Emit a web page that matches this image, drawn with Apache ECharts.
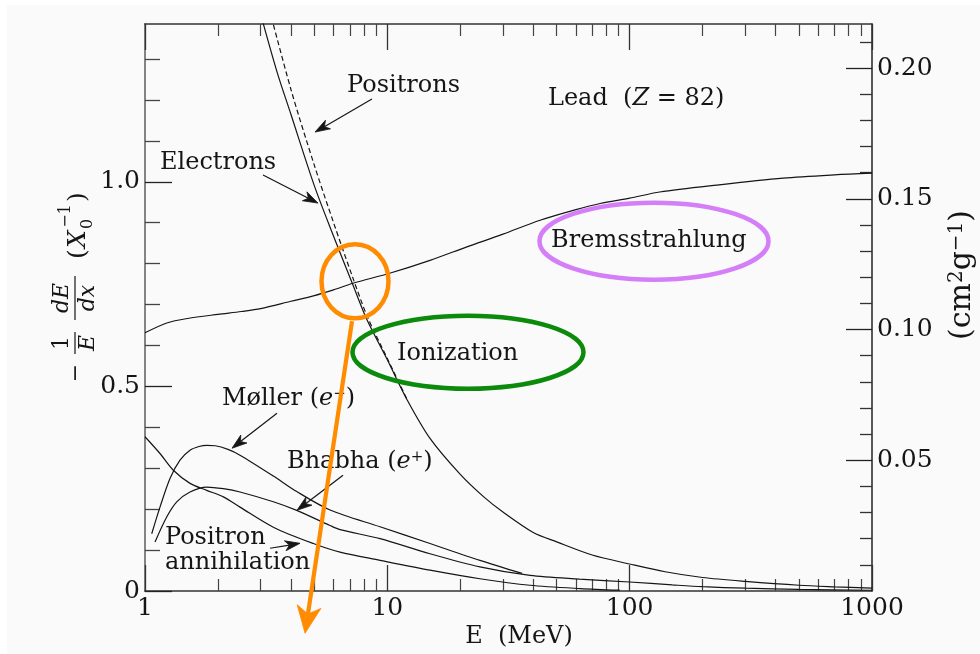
<!DOCTYPE html>
<html>
<head>
<meta charset="utf-8">
<title>Lead (Z = 82)</title>
<script src="https://cdn.jsdelivr.net/npm/echarts@6.0.0/dist/echarts.min.js"></script>
<style>
html,body{margin:0;padding:0;background:#ffffff;}
#chart{width:980px;height:654px;}
</style>
</head>
<body>
<div id="chart"></div>
<script>
// ---------- tick positions / labels ----------
const xMinorTicks = [2,3,4,5,6,7,8,9,20,30,40,50,60,70,80,90,200,300,400,500,600,700,800,900];
const leftMajorTicks = [0, 0.5, 1.0];
const leftMinorTicks = [0.1,0.2,0.3,0.4,0.6,0.7,0.8,0.9,1.1,1.2,1.3];
const rightMajorTicks = [0.05, 0.10, 0.15, 0.20];
const rightMinorTicks = [0.01,0.02,0.03,0.04,0.06,0.07,0.08,0.09,0.11,0.12,0.13,0.14,0.16,0.17,0.18,0.19,0.21];

// ---------- data: E (MeV) and -1/E dE/dx (X0^-1) ----------
const electronsE = [3.0, 3.5, 4.0, 5.0, 6.0, 7.22, 8.25, 10, 12, 15, 20, 25, 30, 40, 50, 70, 100, 140, 200, 300, 500, 700, 1000];
const electronsV = [1.41, 1.27, 1.165, 0.99, 0.867, 0.747, 0.662, 0.565, 0.47, 0.373, 0.285, 0.23, 0.193, 0.143, 0.120, 0.088, 0.066, 0.047, 0.033, 0.0235, 0.014, 0.0102, 0.0070];

const positronsE = [3.2, 4.0, 5.0, 6.0, 7.22, 8.25, 10, 12];
const positronsV = [1.44, 1.226, 1.04, 0.90, 0.764, 0.672, 0.568, 0.471];

const bremE = [1, 1.23, 1.5, 2, 2.5, 3, 4, 5, 6, 7.22, 10.3, 15, 21.3, 30, 42.7, 60, 75.5, 100, 133, 229, 430, 700, 1000];
const bremV = [0.631, 0.655, 0.666, 0.676, 0.683, 0.690, 0.708, 0.722, 0.736, 0.752, 0.777, 0.808, 0.841, 0.872, 0.906, 0.932, 0.947, 0.960, 0.975, 0.992, 1.009, 1.017, 1.021];

const mollerE = [1.066, 1.153, 1.268, 1.394, 1.534, 1.67, 1.798, 1.95, 2.2, 2.466, 3.385, 4.228, 5.8, 9.33, 15, 24.1, 36];
const mollerV = [0.140, 0.205, 0.275, 0.320, 0.344, 0.353, 0.356, 0.355, 0.346, 0.332, 0.281, 0.243, 0.198, 0.157, 0.116, 0.075, 0.043];

const bhabhaE = [1.10, 1.229, 1.352, 1.534, 1.798, 2.105, 2.466, 3.385, 4.228, 5.8, 6.38, 9.33, 15, 24.1, 38.8, 62, 100, 150, 200, 300, 500, 1000];
const bhabhaV = [0.120, 0.181, 0.218, 0.242, 0.254, 0.250, 0.242, 0.218, 0.197, 0.160, 0.150, 0.128, 0.091, 0.059, 0.038, 0.029, 0.022, 0.015, 0.0105, 0.0068, 0.0040, 0.0018];

const annihE = [1.0, 1.153, 1.309, 1.534, 1.798, 2.105, 2.466, 3.385, 4.95, 6.38, 9.33, 15, 24.1, 38.8, 62.4, 91];
const annihV = [0.377, 0.336, 0.295, 0.263, 0.246, 0.230, 0.205, 0.156, 0.116, 0.095, 0.075, 0.051, 0.030, 0.014, 0.006, 0.002];

// ---------- axis ranges ----------
const xMin = 1, xMax = 1000;
const leftMax = 1.3856;
const rightMax = 0.2169;

const FONT = '"DejaVu Serif", "Liberation Serif", serif';
const INK = '#151515';

function pairs(es, vs) { return es.map((e, i) => [e, vs[i]]); }

const lineBase = {
  type: 'line', xAxisIndex: 0, yAxisIndex: 0, showSymbol: false, symbol: 'none',
  smooth: 0.3, clip: true, silent: true, animation: false, z: 3
};

const gridRect = {left: 145, right: 108, top: 24, bottom: 63, containLabel: false};

function hAxis(opts) {
  return Object.assign({
    axisLine: {show: false, onZero: false},
    axisLabel: {show: false}, splitLine: {show: false}, minorTick: {show: false}
  }, opts);
}

const option = {
  backgroundColor: '#fafafa',
  animation: false,
  grid: [Object.assign({}, gridRect), Object.assign({}, gridRect)],
  xAxis: [
    hAxis({type: 'log', logBase: 10, gridIndex: 0, min: xMin, max: xMax, position: 'bottom',
     axisLine: {show: true, onZero: false, lineStyle: {color: '#333', width: 1.5}},
     axisTick: {show: true, inside: true, length: 26, lineStyle: {color: '#333', width: 1.3}},
     axisLabel: {show: true, margin: 5, fontFamily: FONT, fontSize: 25, color: INK,
       formatter: v => String(Math.round(v))}}),
    hAxis({type: 'log', logBase: 10, gridIndex: 0, min: xMin, max: xMax, position: 'top',
     axisLine: {show: true, onZero: false, lineStyle: {color: '#333', width: 1.5}},
     axisTick: {show: true, inside: true, length: 26, lineStyle: {color: '#333', width: 1.3}}}),
    hAxis({type: 'value', gridIndex: 1, min: 0, max: 3, position: 'bottom',
     axisTick: {show: true, inside: true, length: 12, customValues: xMinorTicks.map(Math.log10), lineStyle: {color: '#444', width: 1.2}}}),
    hAxis({type: 'value', gridIndex: 1, min: 0, max: 3, position: 'top',
     axisTick: {show: true, inside: true, length: 12, customValues: xMinorTicks.map(Math.log10), lineStyle: {color: '#444', width: 1.2}}})
  ],
  yAxis: [
    hAxis({type: 'value', gridIndex: 0, min: 0, max: leftMax, position: 'left',
     axisLine: {show: true, onZero: false, lineStyle: {color: '#777', width: 1.8}},
     axisTick: {show: true, inside: true, length: 27, customValues: leftMajorTicks, lineStyle: {color: '#222', width: 1.3}},
     axisLabel: {show: true, customValues: leftMajorTicks, margin: 5, fontFamily: FONT, fontSize: 25, color: INK,
       formatter: v => (v === 0 ? '0' : v.toFixed(1))}}),
    hAxis({type: 'value', gridIndex: 0, min: 0, max: rightMax, position: 'right',
     axisLine: {show: true, onZero: false, lineStyle: {color: '#222', width: 1.5}},
     axisTick: {show: true, inside: true, length: 26, customValues: rightMajorTicks, lineStyle: {color: '#222', width: 1.3}},
     axisLabel: {show: true, customValues: rightMajorTicks, margin: 5, fontFamily: FONT, fontSize: 25, color: INK,
       formatter: v => v.toFixed(2)}}),
    hAxis({type: 'value', gridIndex: 1, min: 0, max: leftMax, position: 'left',
     axisTick: {show: true, inside: true, length: 15, customValues: leftMinorTicks, lineStyle: {color: '#444', width: 1.3}}}),
    hAxis({type: 'value', gridIndex: 1, min: 0, max: rightMax, position: 'right',
     axisTick: {show: true, inside: true, length: 12, customValues: rightMinorTicks, lineStyle: {color: '#333', width: 1.3}}})
  ],
  series: [
    Object.assign({}, lineBase, {name: 'Electrons (ionization)', data: pairs(electronsE, electronsV), lineStyle: {color: INK, width: 1.2}}),
    Object.assign({}, lineBase, {name: 'Positrons (ionization)', data: pairs(positronsE, positronsV), lineStyle: {color: INK, width: 1.2, type: [5, 3]}}),
    Object.assign({}, lineBase, {name: 'Bremsstrahlung', data: pairs(bremE, bremV), lineStyle: {color: INK, width: 1.2}}),
    Object.assign({}, lineBase, {name: 'Møller', data: pairs(mollerE, mollerV), lineStyle: {color: INK, width: 1.2}}),
    Object.assign({}, lineBase, {name: 'Bhabha', data: pairs(bhabhaE, bhabhaV), lineStyle: {color: INK, width: 1.2}}),
    Object.assign({}, lineBase, {name: 'Positron annihilation', data: pairs(annihE, annihV), lineStyle: {color: INK, width: 1.2}})
  ]
};

const chart = echarts.init(document.getElementById('chart'), null, {renderer: 'canvas', width: 980, height: 654});
chart.setOption(option);

// ---------- annotations (positions in data coordinates) ----------
const textLabels = [
  {text: 'Positrons', at: [6.82, 1.234]},
  {text: '{n|Lead  (}{i|Z}{n| = 82)}', at: [46.0, 1.202]},
  {text: 'Electrons', at: [1.153, 1.046]},
  {text: 'Bremsstrahlung', at: [47.4, 0.855]},
  {text: 'Ionization', at: [10.96, 0.579]},
  {text: '{n|Møller (}{i|e}{s|−}{n|)}', at: [2.079, 0.469]},
  {text: '{n|Bhabha (}{i|e}{s|+}{n|)}', at: [3.855, 0.315]},
  {text: 'Positron', at: [1.209, 0.131]},
  {text: 'annihilation', at: [1.209, 0.068]}
];
const blackArrows = [
  {from: [8.64, 1.2022], to: [5.03, 1.1215]},
  {from: [3.069, 1.0164], to: [5.175, 0.9479]},
  {from: [3.505, 0.4345], to: [2.286, 0.3489]},
  {from: [6.563, 0.2829], to: [4.239, 0.1973]},
  {from: [3.281, 0.1044], to: [4.362, 0.1166]}
];
const ellipses = [
  {at: [7.355, 0.757], rx: 33.5, ry: 37, color: '#FF8C00'},
  {at: [21.52, 0.5836], rx: 115.5, ry: 36.5, color: '#0B8A0B'},
  {at: [126.0, 0.855], rx: 114.5, ry: 38.5, color: '#D47EF8'}
];
const orangeArrow = {from: [7.15, 0.6594], to: [4.575, -0.1034]};

const P = (d) => chart.convertToPixel({gridIndex: 0}, d);

const richStyles = {
  n: {fontFamily: FONT, fontSize: 24, fill: INK},
  i: {fontFamily: FONT, fontSize: 24, fontStyle: 'italic', fill: INK},
  s: {fontFamily: FONT, fontSize: 15, fill: INK, verticalAlign: 'top'}
};
const richRight = {
  n: {fontFamily: FONT, fontSize: 30, fill: INK},
  s: {fontFamily: FONT, fontSize: 20, fill: INK, verticalAlign: 'top'}
};

function arrowEls(a, b, color, width, headLen, headW, z) {
  const dx = b[0] - a[0], dy = b[1] - a[1];
  const L = Math.hypot(dx, dy), ux = dx / L, uy = dy / L;
  const bx = b[0] - ux * headLen, by = b[1] - uy * headLen;
  const nx = b[0] - ux * headLen * 0.72, ny = b[1] - uy * headLen * 0.72;
  return [
    {type: 'line', z: z, silent: true, shape: {x1: a[0], y1: a[1], x2: nx, y2: ny},
     style: {stroke: color, lineWidth: width}},
    {type: 'polygon', z: z, silent: true,
     shape: {points: [[b[0], b[1]], [bx - uy * headW, by + ux * headW], [nx, ny], [bx + uy * headW, by - ux * headW]]},
     style: {fill: color, stroke: color, lineWidth: 0.8}}
  ];
}

const g = [];
// white page margin
g.push({type: 'rect', z: 100, silent: true, shape: {x: 0, y: 0, width: 980, height: 5}, style: {fill: '#ffffff'}});
g.push({type: 'rect', z: 100, silent: true, shape: {x: 0, y: 0, width: 7, height: 654}, style: {fill: '#ffffff'}});

textLabels.forEach(t => {
  const p = P(t.at);
  g.push({type: 'text', z: 40, silent: true, x: p[0], y: p[1],
    style: {text: t.text, rich: richStyles, fontFamily: FONT, fontSize: 24, fill: INK,
            textAlign: 'left', textVerticalAlign: 'middle'}});
});
blackArrows.forEach(a => { arrowEls(P(a.from), P(a.to), INK, 1.2, 15, 5, 40).forEach(e => g.push(e)); });
ellipses.forEach(e => {
  const p = P(e.at);
  g.push({type: 'ellipse', z: 45, silent: true, shape: {cx: p[0], cy: p[1], rx: e.rx, ry: e.ry},
    style: {fill: 'none', stroke: e.color, lineWidth: 4.5}});
});
arrowEls(P(orangeArrow.from), P(orangeArrow.to), '#FF8C00', 4.2, 27, 12, 46).forEach(e => g.push(e));

// x axis title
g.push({type: 'text', z: 40, silent: true, x: 519, y: 637,
  style: {text: 'E  (MeV)', fontFamily: FONT, fontSize: 24, fill: INK, textAlign: 'center', textVerticalAlign: 'middle'}});

// left axis title (rotated, reads bottom to top)
const fi = {fontFamily: FONT, fontSize: 22, fontStyle: 'italic', fill: INK};
const fn = {fontFamily: FONT, fontSize: 22, fill: INK};
const fiL = {fontFamily: FONT, fontSize: 25, fontStyle: 'italic', fill: INK};
const fnL = {fontFamily: FONT, fontSize: 25, fill: INK};
const fsm = {fontFamily: FONT, fontSize: 16, fill: INK};
function T(x, y, text, st, va, al) {
  return {type: 'text', x: x, y: y, silent: true,
    style: Object.assign({text: text, textAlign: al || 'center', textVerticalAlign: va || 'middle'}, st)};
}
g.push({type: 'group', x: 75, y: 285, rotation: Math.PI / 2, z: 40, silent: true, children: [
  T(-88, 1, '−', fn, 'middle'),
  T(-58, -2, '1', fn, 'bottom'),
  {type: 'line', shape: {x1: -69, y1: 0, x2: -47, y2: 0}, style: {stroke: INK, lineWidth: 1.2}},
  T(-58, 2, 'E', fi, 'top'),
  T(-13, -2, 'dE', fi, 'bottom'),
  {type: 'line', shape: {x1: -35, y1: 0, x2: 9, y2: 0}, style: {stroke: INK, lineWidth: 1.2}},
  T(-13, 2, 'dx', fi, 'top'),
  T(31, 3, '(', fnL, 'middle'),
  T(46, 3, 'X', fiL, 'middle'),
  T(61, 13, '0', fsm, 'middle'),
  T(69, -9, '−1', fsm, 'middle'),
  T(88, 3, ')', fnL, 'middle')
]});

// right axis title (rotated, reads bottom to top)
g.push({type: 'group', x: 962, y: 275, rotation: Math.PI / 2, z: 40, silent: true, children: [
  {type: 'text', x: 0, y: 0, style: {text: '{n|(cm}{s|2}{n|g}{s|−1}{n|)}', rich: richRight,
    textAlign: 'center', textVerticalAlign: 'middle'}}
]});

chart.setOption({graphic: g});
</script>
</body>
</html>
